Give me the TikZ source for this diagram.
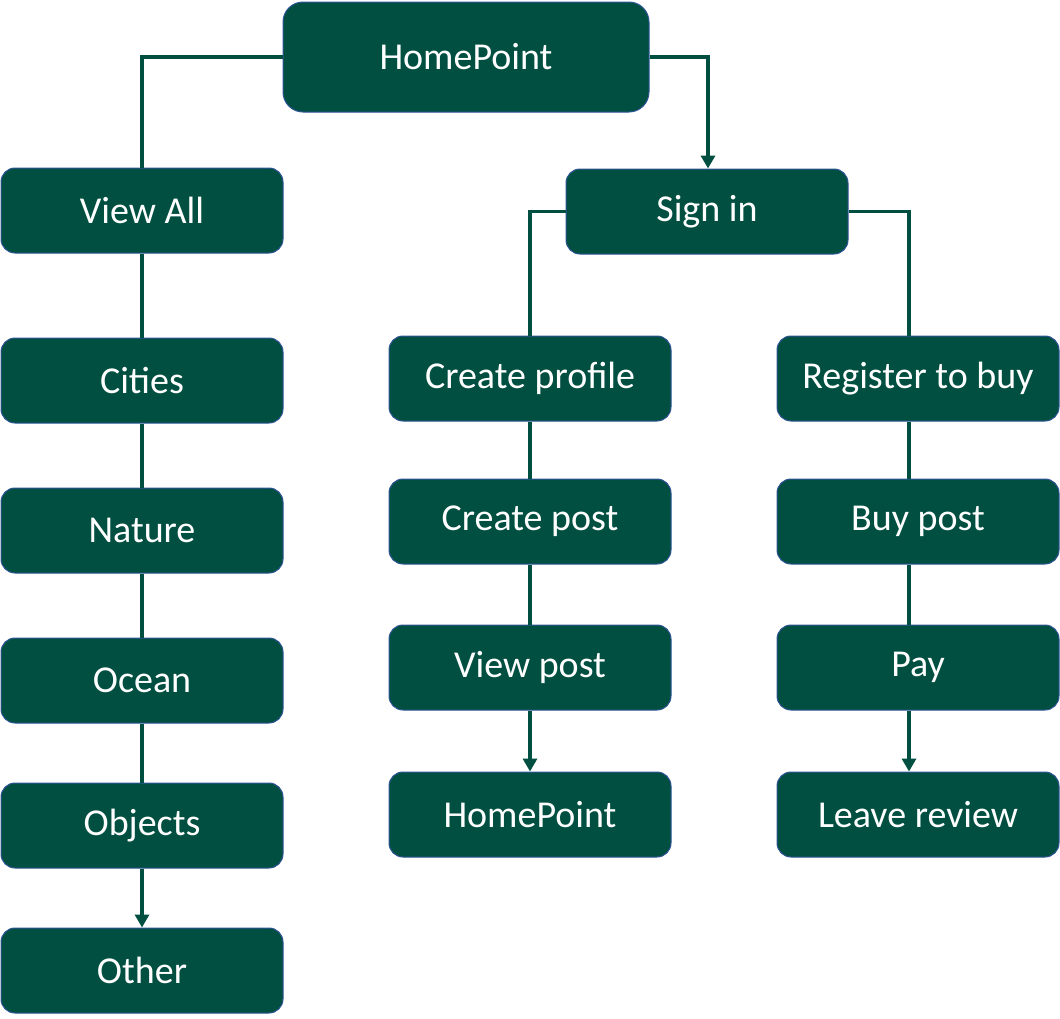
\documentclass[tikz,border=0pt]{standalone}
\usepackage{fontspec}
\setmainfont{Carlito}
\usetikzlibrary{arrows.meta}
\definecolor{boxgreen}{RGB}{0,79,64}
\definecolor{boxedge}{RGB}{47,85,151}
\tikzset{
  box/.style={draw=boxedge, line width=1pt, fill=boxgreen, rounded corners=14pt,
    minimum width=282pt, minimum height=85pt, inner sep=0pt, text=white,
    font=\fontsize{38}{45}\selectfont, anchor=center},
  link/.style={draw=boxgreen, line width=3.8pt},
  arr/.style={link, -{Triangle[length=13pt,width=14pt]}}
}
\begin{document}
\begin{tikzpicture}[x=1pt,y=-1pt]
\useasboundingbox (0,0) rectangle (1060,1018);
\node[box, minimum width=366pt, minimum height=110pt, rounded corners=20pt] (home) at (466,57) {HomePoint};
\node[box] (viewall) at (142,210.5) {View All};
\node[box] (cities) at (142,380.5) {Cities};
\node[box] (nature) at (142,530.5) {Nature};
\node[box] (ocean) at (142,680.5) {Ocean};
\node[box] (objects) at (142,825.5) {Objects};
\node[box] (other) at (142,970.5) {Other};
\node[box] (signin) at (707,211.5) {Sign in};
\node[box] (cprofile) at (530,378.5) {Create profile};
\node[box] (cpost) at (530,521.5) {Create post};
\node[box] (vpost) at (530,667.5) {View post};
\node[box] (home2) at (530,814.5) {HomePoint};
\node[box] (register) at (918,378.5) {Register to buy};
\node[box] (buy) at (918,521.5) {Buy post};
\node[box] (pay) at (918,667.5) {Pay};
\node[box] (review) at (918,814.5) {Leave review};

\draw[link] (home.west) -| (viewall.north);
\draw[arr] (home.east) -| ([xshift=1pt]signin.north);
\draw[link] (viewall) -- (cities);
\draw[link] (cities) -- (nature);
\draw[link] (nature) -- (ocean);
\draw[link] (ocean) -- (objects);
\draw[arr] (objects.south) -- (other.north);
\draw[link] (signin.west) -| (cprofile.north);
\draw[link] (signin.east) -| ([xshift=-9pt]register.north);
\draw[link] (cprofile.south) -- (cpost.north);
\draw[link] (cpost.south) -- (vpost.north);
\draw[arr] (vpost.south) -- (home2.north);
\draw[link] ([xshift=-9pt]register.south) -- ([xshift=-9pt]buy.north);
\draw[link] ([xshift=-9pt]buy.south) -- ([xshift=-9pt]pay.north);
\draw[arr] ([xshift=-9pt]pay.south) -- ([xshift=-9pt]review.north);
\end{tikzpicture}
\end{document}
